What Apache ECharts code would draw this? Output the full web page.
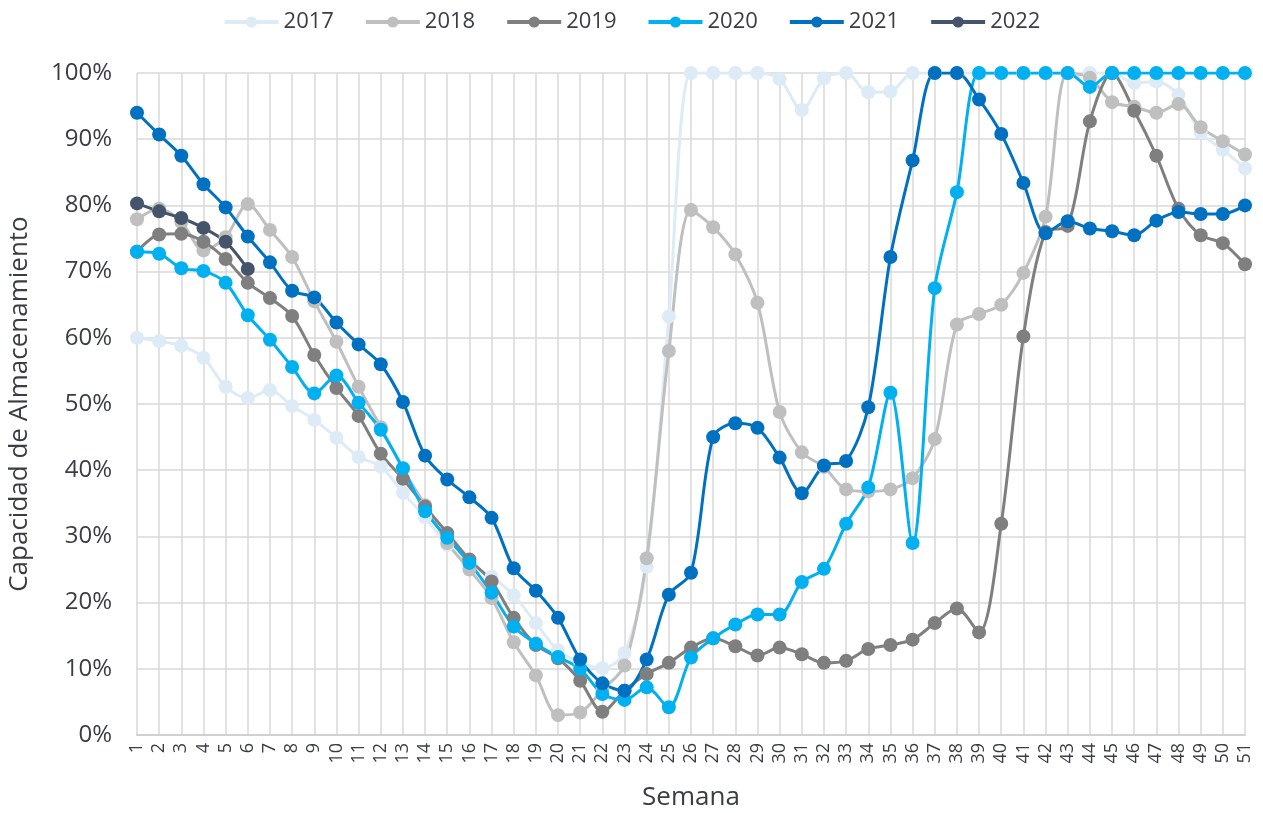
<!DOCTYPE html>
<html>
<head>
<meta charset="utf-8">
<script src="https://cdn.jsdelivr.net/npm/echarts@6/dist/echarts.min.js"></script>
<style>
  html, body { margin: 0; padding: 0; background: #fff; }
  #main { width: 1263px; height: 813px; }
</style>
</head>
<body>
<div id="main"></div>
<script>
// semanas 1..51
const semanas = [];
for (let i = 1; i <= 51; i++) semanas.push(String(i));

const y2017 = [60, 59.5, 58.8, 57, 52.6, 50.9, 52.1, 49.7, 47.6, 44.9, 42, 40.6, 36.6, 32.9, 28.7, 25.8, 23.9, 21.1, 16.9, 12.8, 11, 10.1, 12.4, 25.4, 63.2, 100, 100, 100, 100, 99.1, 94.4, 99.2, 100, 97.1, 97.2, 100, 100, 100, 100, 100, 100, 100, 100, 100, 100, 98.5, 98.7, 96.7, 91, 88.4, 85.6];
const y2018 = [77.9, 79.5, 77.5, 73.2, 75.2, 80.2, 76.3, 72.2, 65.5, 59.4, 52.6, 46.5, 40.2, 34.7, 29, 25, 20.7, 14, 9, 3, 3.4, 6.8, 10.5, 26.7, 58, 79.3, 76.7, 72.6, 65.3, 48.8, 42.7, 40.5, 37.1, 36.8, 37.1, 38.8, 44.7, 62, 63.6, 65, 69.8, 78.3, 100, 99.3, 95.6, 94.9, 94, 95.3, 91.8, 89.7, 87.7];
const y2019 = [73, 75.6, 75.7, 74.5, 71.9, 68.3, 66, 63.3, 57.4, 52.4, 48.2, 42.5, 38.7, 34.5, 30.5, 26.5, 23.2, 17.7, 13.6, 11.6, 8.2, 3.5, 6.7, 9.2, 10.9, 13.2, 14.6, 13.4, 12, 13.2, 12.2, 10.9, 11.2, 13, 13.6, 14.4, 16.9, 19.1, 15.5, 31.9, 60.2, 76, 76.9, 92.7, 100, 94.3, 87.5, 79.5, 75.5, 74.3, 71.1];
const y2020 = [73, 72.7, 70.5, 70.1, 68.3, 63.4, 59.7, 55.6, 51.6, 54.3, 50.2, 46.1, 40.3, 33.8, 29.8, 26, 21.5, 16.4, 13.8, 11.8, 10, 6.2, 5.3, 7.2, 4.2, 11.7, 14.6, 16.7, 18.2, 18.2, 23.1, 25.1, 31.9, 37.4, 51.7, 29, 67.5, 82, 100, 100, 100, 100, 100, 97.9, 100, 100, 100, 100, 100, 100, 100];
const y2021 = [94, 90.7, 87.5, 83.2, 79.7, 75.3, 71.4, 67.1, 66.1, 62.3, 59, 56, 50.3, 42.2, 38.6, 35.9, 32.8, 25.2, 21.8, 17.7, 11.4, 7.8, 6.7, 11.4, 21.2, 24.5, 45, 47.1, 46.4, 41.9, 36.5, 40.7, 41.4, 49.5, 72.2, 86.8, 100, 100, 96, 90.8, 83.4, 75.8, 77.6, 76.5, 76.1, 75.5, 77.7, 79, 78.7, 78.7, 80];
const y2022 = [80.3, 79.1, 78.1, 76.6, 74.5, 70.4];

const anios = ['2017', '2018', '2019', '2020', '2021', '2022'];
const colores = ['#ddebf7', '#bfbfbf', '#7f7f7f', '#00b0f0', '#0070c0', '#44546a'];
const datos = [y2017, y2018, y2019, y2020, y2021, y2022];

const fuente = 'Open Sans';
const txt = '#3a3d44';
const myChart = echarts.init(document.getElementById('main'));

const option = {
  animation: false,
  color: colores,
  legend: {
    data: anios,
    top: 6,
    left: 'center',
    itemWidth: 54,
    itemHeight: 14,
    itemGap: 30,
    lineStyle: { width: 4 },
    textStyle: { fontFamily: fuente, fontSize: 22, color: txt },
  },
  grid: {
    left: 137,
    right: 18,
    top: 73,
    bottom: 78,
    outerBoundsMode: 'none',
  },
  xAxis: {
    type: 'category',
    data: semanas,
    boundaryGap: false,
    name: 'Semana',
    nameLocation: 'middle',
    nameGap: 50,
    nameTextStyle: { fontFamily: fuente, fontSize: 26, color: txt },
    axisLine: { lineStyle: { color: '#d0d0d0', width: 2 } },
    axisTick: { show: false },
    axisLabel: {
      interval: 0,
      rotate: 90,
      margin: 8,
      fontFamily: fuente,
      fontSize: 18,
      color: txt,
    },
    splitLine: { show: true, lineStyle: { color: '#d9d9d9', width: 1.5 } },
  },
  yAxis: {
    type: 'value',
    min: 0,
    max: 100,
    interval: 10,
    name: 'Capacidad de Almacenamiento',
    nameLocation: 'middle',
    nameGap: 104,
    nameTextStyle: { fontFamily: fuente, fontSize: 26, color: txt },
    axisLine: { show: false },
    axisTick: { show: false },
    axisLabel: {
      formatter: '{value}%',
      margin: 25,
      fontFamily: fuente,
      fontSize: 24,
      color: txt,
    },
    splitLine: { lineStyle: { color: '#d9d9d9', width: 1.5 } },
  },
  series: anios.map((a, i) => ({
    name: a,
    type: 'line',
    data: datos[i],
    smooth: 0.3,
    symbol: 'circle',
    symbolSize: 14,
    lineStyle: { width: 3, color: colores[i] },
    itemStyle: { color: colores[i] },
  })),
};
myChart.setOption(option);
</script>
</body>
</html>
